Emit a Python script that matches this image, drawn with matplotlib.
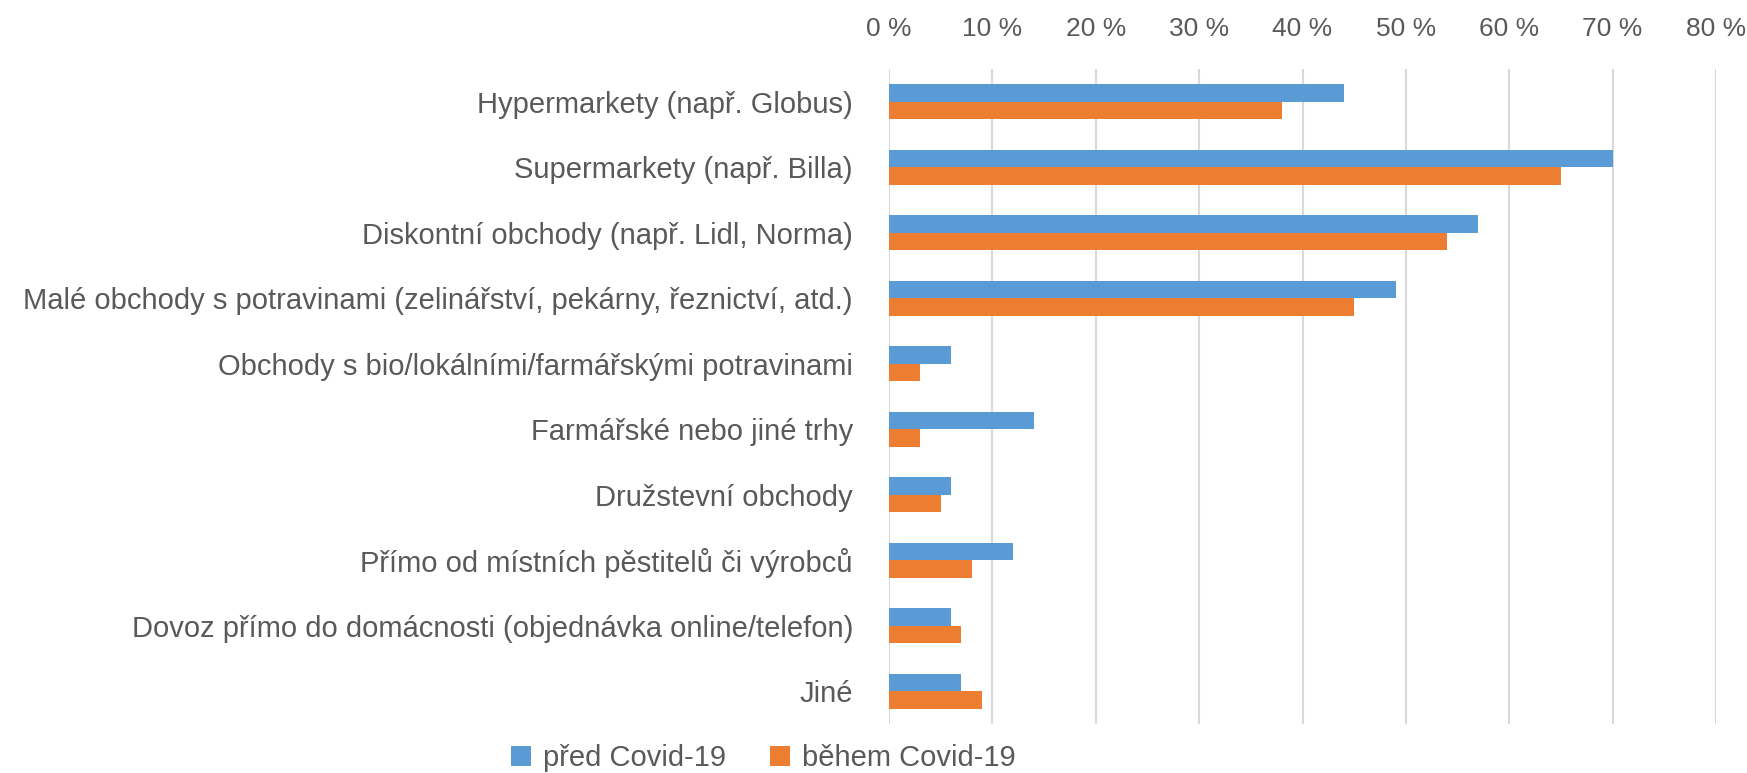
import matplotlib.pyplot as plt
import numpy as np

plt.rcParams['font.family'] = ['Liberation Sans', 'DejaVu Sans']

categories = [
    "Hypermarkety (např. Globus)",
    "Supermarkety (např. Billa)",
    "Diskontní obchody (např. Lidl, Norma)",
    "Malé obchody s potravinami (zelinářství, pekárny, řeznictví, atd.)",
    "Obchody s bio/lokálními/farmářskými potravinami",
    "Farmářské nebo jiné trhy",
    "Družstevní obchody",
    "Přímo od místních pěstitelů či výrobců",
    "Dovoz přímo do domácnosti (objednávka online/telefon)",
    "Jiné",
]
pred_covid = [44, 70, 57, 49, 6, 14, 6, 12, 6, 7]
behem_covid = [38, 65, 54, 45, 3, 3, 5, 8, 7, 9]
series_labels = ["před Covid-19", "během Covid-19"]
xticks = [0, 10, 20, 30, 40, 50, 60, 70, 80]

BLUE = '#5B9BD5'
ORANGE = '#ED7D31'
TEXT = '#595959'
FS = 21

W, H = 1747, 773
fig = plt.figure(figsize=(W / 100, H / 100), dpi=100)
ax = fig.add_axes([889 / W, 1 - 724 / H, (1716 - 889) / W, (724 - 69) / H])

y = np.arange(len(categories))
h = 0.27
ax.barh(y - h / 2, pred_covid, height=h, color=BLUE, label=series_labels[0], zorder=3)
ax.barh(y + h / 2, behem_covid, height=h, color=ORANGE, label=series_labels[1], zorder=3)

ax.set_ylim(len(categories) - 0.5, -0.5)
ax.set_xlim(0, 80)
ax.set_yticks(y)
ax.set_yticklabels(categories, fontsize=FS, color=TEXT)
ax.set_xticks(xticks)
ax.set_xticklabels([f"{v} %" for v in xticks], fontsize=19, color=TEXT)
ax.xaxis.tick_top()
ax.tick_params(axis='both', length=0)
ax.tick_params(axis='x', pad=20)
ax.tick_params(axis='y', pad=26)
ax.grid(axis='x', color='#D9D9D9', linewidth=1.5, zorder=0)
for s in ax.spines.values():
    s.set_visible(False)

fig.legend(loc='center', bbox_to_anchor=(763 / W, 1 - 758 / H), ncol=2,
           frameon=False, fontsize=FS, labelcolor=TEXT, handlelength=0.7,
           handleheight=0.7, handletextpad=0.4, columnspacing=1.5)

fig.savefig('out.png', dpi=100)
